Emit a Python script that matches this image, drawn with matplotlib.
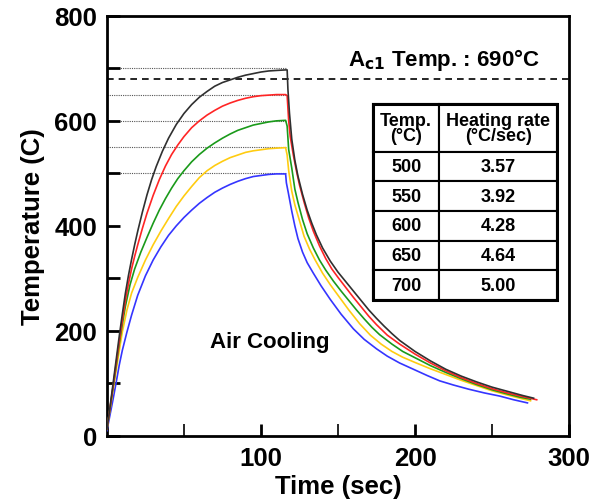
import matplotlib
matplotlib.use('Agg')
from matplotlib import pyplot as plt
from matplotlib.patches import Rectangle

plt.rcParams['font.family'] = ['Liberation Sans', 'DejaVu Sans']
plt.rcParams['font.weight'] = 'bold'

# Heating part (time in sec, temperature in C)
heat_700_t = [0, 2, 4, 6, 8, 10, 12, 14, 16, 18, 20, 23, 26, 29, 32, 36, 40, 45, 50, 55,
              60, 65, 70, 75, 80, 85, 90, 95, 100, 105, 110, 116]
heat_700 = [13, 55, 100, 145, 190, 232, 272, 306, 336, 364, 390, 426, 459, 488, 513, 542,
            567, 593, 614, 631, 645, 656, 666, 673, 678, 683, 687, 690, 693, 695, 696, 697]
heat_650_t = [0, 2, 4, 6, 8, 10, 12, 14, 16, 18, 20, 23, 26, 30, 34, 38, 42, 46, 50, 55,
              60, 65, 70, 75, 80, 85, 90, 95, 100, 105, 110, 116]
heat_650 = [13, 53, 95, 138, 180, 220, 258, 290, 318, 342, 364, 395, 424, 458, 488, 514,
            536, 554, 570, 587, 600, 611, 620, 628, 634, 639, 643, 646, 648, 649, 650, 650]
heat_600_t = [0, 2, 4, 6, 8, 10, 12, 15, 18, 22, 26, 30, 34, 38, 42, 46, 50, 55, 60, 65,
              70, 75, 80, 85, 90, 95, 100, 105, 110, 116]
heat_600 = [13, 52, 92, 133, 175, 213, 247, 288, 318, 350, 378, 405, 430, 452, 472, 490,
            505, 522, 536, 548, 558, 567, 575, 582, 587, 592, 595, 598, 600, 601]
heat_550_t = [0, 2, 4, 6, 8, 10, 13, 16, 20, 25, 30, 35, 40, 45, 50, 55, 60, 65, 70, 75,
              80, 85, 90, 95, 100, 105, 110, 116]
heat_550 = [13, 50, 88, 125, 162, 198, 240, 272, 302, 335, 364, 390, 414, 437, 457, 475,
            492, 505, 515, 523, 530, 535, 540, 543, 545, 547, 548, 549]
heat_500_t = [0, 2, 4, 6, 8, 10, 13, 16, 20, 25, 30, 35, 40, 45, 50, 55, 60, 65, 70, 75,
              80, 85, 90, 95, 100, 105, 110, 116]
heat_500 = [10, 40, 70, 102, 135, 163, 198, 230, 268, 305, 335, 360, 382, 400, 416, 430,
            443, 454, 464, 472, 479, 485, 490, 494, 496, 498, 499, 499]

# Air cooling part
cool_700_t = [117, 117.5, 118.5, 120, 122, 124, 127, 130, 133, 136, 140, 145, 150, 155, 160,
              165, 170, 175, 180, 185, 190, 200, 210, 220, 230, 240, 250, 260, 270, 277]
cool_700 = [697, 660, 615, 565, 525, 495, 460, 430, 405, 383, 358, 333, 312, 294, 276,
            258, 240, 224, 209, 195, 182, 161, 143, 127, 114, 103, 93, 85, 77, 72]
cool_650_t = [117, 118, 119, 121, 123, 125, 128, 131, 134, 138, 142, 146, 150, 155, 160,
              165, 170, 175, 182, 190, 200, 210, 220, 230, 240, 250, 260, 270, 279]
cool_650 = [648, 600, 570, 535, 505, 478, 445, 415, 390, 362, 338, 318, 302, 283, 264,
            246, 228, 212, 192, 175, 156, 139, 124, 111, 100, 90, 82, 75, 69]
cool_600_t = [117, 118, 120, 122, 124, 127, 130, 134, 138, 142, 147, 152, 157, 162, 167,
              172, 177, 185, 192, 200, 210, 220, 230, 240, 250, 260, 268, 275]
cool_600 = [590, 545, 510, 470, 445, 412, 385, 358, 335, 316, 295, 276, 258, 240, 223,
            207, 193, 175, 161, 149, 134, 121, 109, 98, 88, 80, 74, 70]
cool_550_t = [117, 118, 120, 122, 125, 128, 131.5, 135, 140, 145, 150, 157, 164, 171, 178,
              185, 192, 200, 210, 220, 230, 240, 250, 260, 268, 275]
cool_550 = [535, 505, 466, 440, 410, 380, 356, 336, 310, 288, 268, 240, 214, 192, 175,
            161, 150, 140, 128, 117, 106, 96, 86, 78, 72, 67]
cool_500_t = [116.5, 117.7, 120, 122, 124, 127, 130, 134, 139, 145, 152, 160, 167, 175, 182,
              190, 199, 208, 216, 225, 235, 245, 255, 264, 273]
cool_500 = [482, 464, 428, 400, 376, 350, 330, 310, 286, 260, 232, 204, 184, 166, 152,
            139, 127, 115, 105, 97, 89, 82, 76, 69, 63]

target_temps = ['500', '550', '600', '650', '700']
heating_rates = ['3.57', '3.92', '4.28', '4.64', '5.00']
hold_levels = [500, 550, 600, 650, 700]
ac1_line = 680

series = [
    (heat_500_t, heat_500, cool_500_t, cool_500, '#3535ff'),
    (heat_550_t, heat_550, cool_550_t, cool_550, '#ffcc11'),
    (heat_600_t, heat_600, cool_600_t, cool_600, '#1a9a1a'),
    (heat_650_t, heat_650, cool_650_t, cool_650, '#ff2525'),
    (heat_700_t, heat_700, cool_700_t, cool_700, '#303030'),
]

fig = plt.figure(figsize=(5.94, 5.02), dpi=100)
ax = fig.add_axes([0.180, 0.1295, 0.778, 0.837])

# dotted guide lines at the holding temperatures
for lvl in hold_levels:
    ax.plot([0, 116], [lvl, lvl], color='#555555', lw=0.8, ls=(0, (1, 1)), zorder=1)

# Ac1 line
ax.axhline(ac1_line, color='black', lw=1.2, ls=(0, (4, 3)), zorder=1)

for ht, hv, ct, cv, c in series:
    ax.plot(ht + ct, hv + cv, color=c, lw=1.2, zorder=3)

ax.set_xlim(0, 300)
ax.set_ylim(0, 800)
ax.set_xticks([100, 200, 300])
ax.set_xticks([50, 150, 250], minor=True)
ax.set_yticks([0, 200, 400, 600, 800])
ax.set_yticks([100, 300, 500, 700], minor=True)
ax.tick_params(which='both', direction='in', length=9, width=2, top=False, right=False,
               labelsize=18.5, pad=7)
ax.tick_params(axis='x', which='minor', width=1.2)
for s in ax.spines.values():
    s.set_linewidth(2)

ax.set_xlabel('Time (sec)', fontsize=18.5, fontweight='bold', labelpad=3)
ax.set_ylabel('Temperature (C)', fontsize=18.5, fontweight='bold', labelpad=7)

ax.text(156.5, 718, r'A$_{\mathbf{c1}}$ Temp. : 690°C', fontsize=16, fontweight='bold',
        va='center', ha='left')
ax.text(67, 179, 'Air Cooling', fontsize=16, fontweight='bold', va='center', ha='left')

# heating rate table
cell_text = [[a, b] for a, b in zip(target_temps, heating_rates)]
tbl = ax.table(cellText=cell_text, colLabels=['Temp.\n(°C)', 'Heating rate\n(°C/sec)'],
               colWidths=[0.36, 0.64], cellLoc='center',
               bbox=[0.576, 0.324, 0.398, 0.466])
tbl.auto_set_font_size(False)
for (r, c), cell in tbl.get_celld().items():
    cell.set_linewidth(1.5)
    cell.get_text().set_fontsize(13)
    cell.get_text().set_fontweight('bold')
    if r == 0:
        cell.set_height(cell.get_height() * 1.6)
        cell.get_text().set_linespacing(0.85)
ax.add_patch(Rectangle((0.576, 0.324), 0.398, 0.466, transform=ax.transAxes,
                       fill=False, lw=2.2, ec='black', zorder=10))

plt.savefig('out.png', dpi=100)
